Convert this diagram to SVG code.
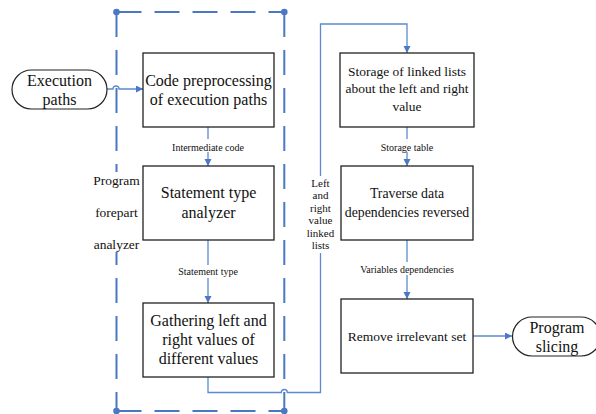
<svg xmlns="http://www.w3.org/2000/svg" width="596" height="414" viewBox="0 0 596 414" font-family="'Liberation Serif', 'Times New Roman', serif">
<style>
.box{fill:#fff;stroke:#222;stroke-width:1.3}
.term{fill:#fff;stroke:#222;stroke-width:1.2}
text{font-family:'Liberation Serif','Times New Roman',serif;fill:#111;text-anchor:middle}
.big{font-size:16px}
.mid{font-size:13.5px}
.sm{font-size:10px}
.lb{font-size:11px}
.conn{fill:none;stroke:#5b8ad0;stroke-width:1.3}
.dash{fill:none;stroke:#4a78c4;stroke-width:2;stroke-dasharray:25 13}
.bg{fill:#fff;stroke:none}
</style>
<defs>
<marker id="arr" markerUnits="userSpaceOnUse" markerWidth="8" markerHeight="8" refX="7" refY="3.5" orient="auto">
<path d="M0,0 L7,3.5 L0,7 z" fill="#4a78c4"/>
</marker>
</defs>
<rect width="596" height="414" fill="#fff"/>
<g id="frame">
<path class="dash" d="M116.5,12 H284.3"/>
<path class="dash" d="M116.5,411 H284.3"/>
<path class="dash" d="M116.5,12 V411"/>
<path class="dash" d="M284.3,12 V411"/>
<circle cx="116.5" cy="12" r="3.3" fill="#4a78c4"/>
<circle cx="284.3" cy="12" r="3.3" fill="#4a78c4"/>
<circle cx="116.5" cy="411" r="3.3" fill="#4a78c4"/>
<circle cx="284.3" cy="411" r="3.3" fill="#4a78c4"/>
<rect class="bg" x="90" y="172" width="52" height="80"/>
<text class="mid" x="116.5" y="184.5">Program</text>
<text class="mid" x="116.5" y="216.5">forepart</text>
<text class="mid" x="116.5" y="248.5">analyzer</text>
</g>
<g id="connectors">
<path class="conn" d="M107,89 H113 A3,3 0 0 1 119,89 H143" marker-end="url(#arr)"/>
<path class="conn" d="M208,127 V166" marker-end="url(#arr)"/>
<path class="conn" d="M208,240 V303" marker-end="url(#arr)"/>
<path class="conn" d="M208,377 V392.5 H281.3 A3,3 0 0 1 287.3,392.5 H320.5 V24 H407 V53" marker-end="url(#arr)"/>
<path class="conn" d="M407,127 V166" marker-end="url(#arr)"/>
<path class="conn" d="M407,240 V299" marker-end="url(#arr)"/>
<path class="conn" d="M473,336 H512" marker-end="url(#arr)"/>
<rect class="bg" x="166" y="139" width="84" height="13"/>
<text class="sm" x="208" y="150.5">Intermediate code</text>
<rect class="bg" x="172" y="265" width="72" height="13"/>
<text class="sm" x="208" y="275">Statement type</text>
<rect class="bg" x="375" y="139" width="64" height="13"/>
<text class="sm" x="407" y="150.5">Storage table</text>
<rect class="bg" x="354" y="262" width="106" height="13"/>
<text class="sm" x="407" y="272.5">Variables dependencies</text>
<rect class="bg" x="305" y="176" width="31" height="77"/>
<text class="lb" x="320.5" y="186.5">Left</text>
<text class="lb" x="320.5" y="199">and</text>
<text class="lb" x="320.5" y="211.5">right</text>
<text class="lb" x="320.5" y="224">value</text>
<text class="lb" x="320.5" y="236.5">linked</text>
<text class="lb" x="320.5" y="249">lists</text>
</g>
<g id="execution-paths">
<rect class="term" x="12" y="70" width="95" height="39" rx="19.5"/>
<text class="big" x="59.5" y="86">Execution</text>
<text class="big" x="59.5" y="105">paths</text>
</g>
<g id="code-preprocessing">
<rect class="box" x="143" y="53" width="131" height="74"/>
<text class="big" x="208.5" y="86">Code preprocessing</text>
<text class="big" x="208.5" y="105">of execution paths</text>
</g>
<g id="statement-type-analyzer">
<rect class="box" x="143" y="166" width="131" height="74"/>
<text class="big" x="208.5" y="198">Statement type</text>
<text class="big" x="208.5" y="218">analyzer</text>
</g>
<g id="gathering">
<rect class="box" x="143" y="303" width="131" height="74"/>
<text class="big" x="208.5" y="326">Gathering left and</text>
<text class="big" x="208.5" y="345">right values of</text>
<text class="big" x="208.5" y="364">different values</text>
</g>
<g id="storage">
<rect class="box" x="340" y="53" width="134" height="74"/>
<text class="mid" x="407" y="76">Storage of linked lists</text>
<text class="mid" x="407" y="93">about the left and right</text>
<text class="mid" x="407" y="111">value</text>
</g>
<g id="traverse">
<rect class="box" x="341" y="166" width="132" height="74"/>
<text style="font-size:13.8px" x="407" y="197.5">Traverse data</text>
<text style="font-size:13.8px" x="407" y="216.5">dependencies reversed</text>
</g>
<g id="remove">
<rect class="box" x="341" y="299" width="132" height="74"/>
<text class="mid" x="407" y="341">Remove irrelevant set</text>
</g>
<g id="program-slicing">
<rect class="term" x="512.5" y="317" width="88" height="39" rx="19.5"/>
<text class="big" x="557" y="333">Program</text>
<text class="big" x="557" y="352">slicing</text>
</g>
</svg>
